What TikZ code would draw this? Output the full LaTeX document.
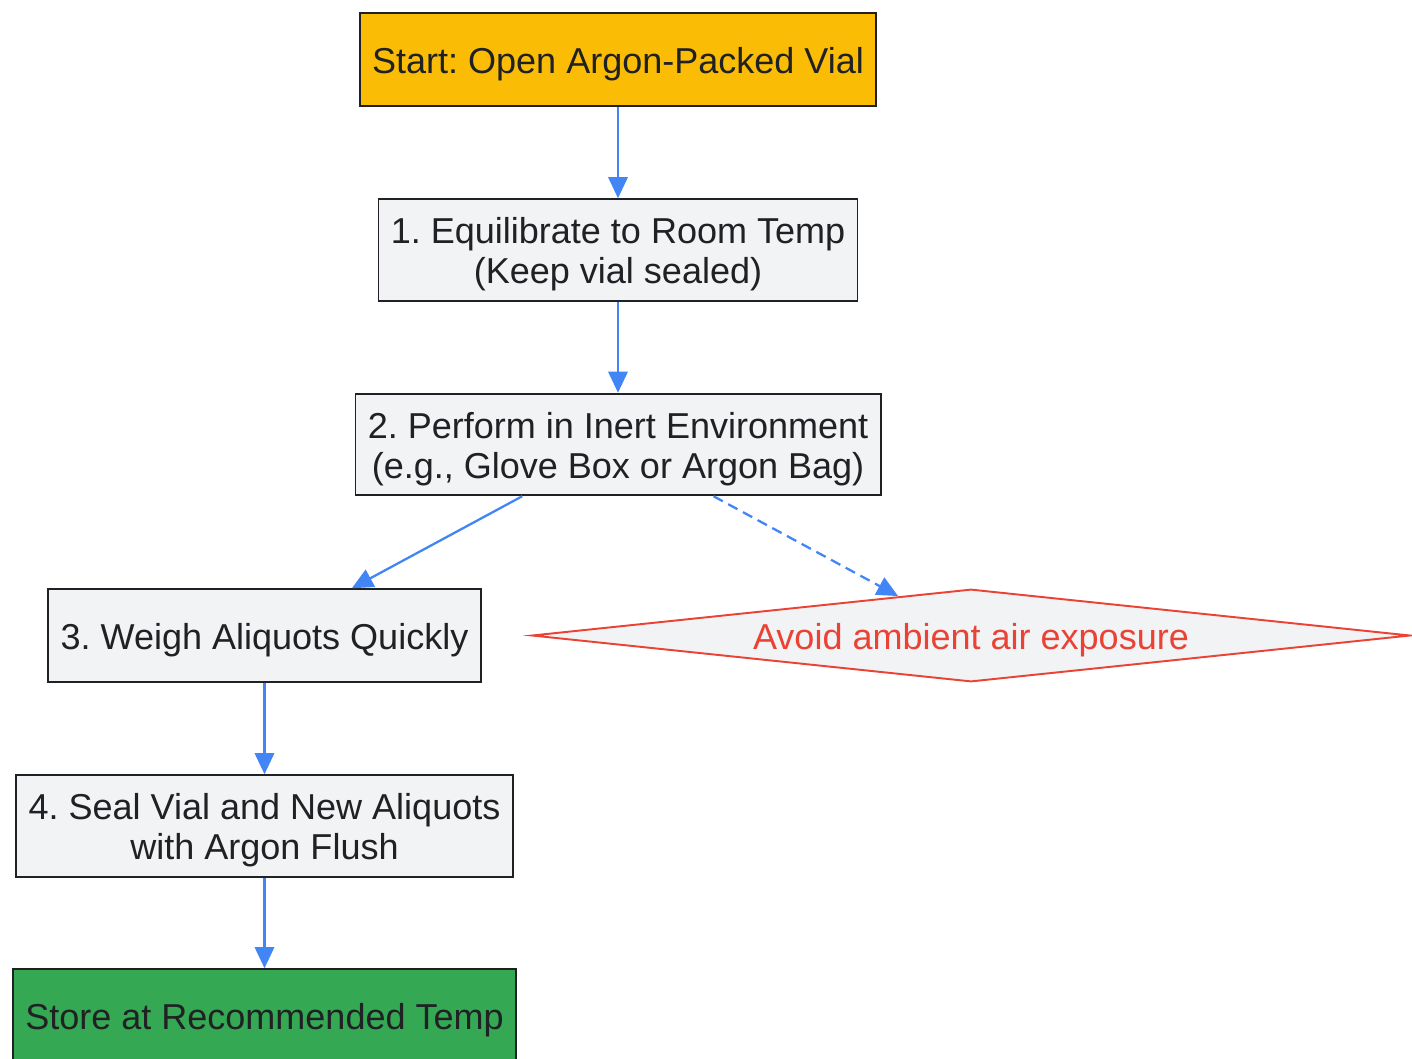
\documentclass[tikz,border=0pt]{standalone}
\usepackage{fontspec}
\setmainfont{Liberation Sans}
\usetikzlibrary{shapes.geometric, arrows.meta}
\frenchspacing

\definecolor{startyellow}{HTML}{FBBC05}
\definecolor{storegreen}{HTML}{34A853}
\definecolor{stepgray}{HTML}{F1F3F4}
\definecolor{flowblue}{HTML}{4285F4}
\definecolor{warnred}{HTML}{EA4335}
\definecolor{inkdark}{HTML}{202124}

% taller first line, so the text sits a little lower in its box
\newcommand{\toprule}{\rule{0pt}{20pt}}

\tikzset{
  stepbox/.style={draw=inkdark, fill=stepgray, line width=1.1pt, text=inkdark,
    align=center, inner xsep=7pt, inner ysep=0pt, minimum height=52.7pt,
    font=\fontsize{20.5}{22.7}\selectfont},
  twobox/.style={stepbox, minimum height=57.8pt},
  warnbox/.style={diamond, draw=warnred, fill=stepgray, line width=1.1pt,
    text=warnred, aspect=9.5, inner sep=0pt, minimum width=500pt,
    minimum height=52.7pt, font=\fontsize{20.5}{22.7}\selectfont},
  flow/.style={draw=flowblue, line width=1.3pt, -{Triangle[length=12pt, width=11pt]}},
}

\begin{document}
\begin{tikzpicture}[x=0.02cm, y=-0.02cm]
    \useasboundingbox (0, 0) rectangle (1412, 1058);
    \clip (0, 0) rectangle (1412, 1058);

    \node[stepbox, fill=startyellow] (start) at (618, 59.5) {\toprule Start: Open Argon-Packed Vial};
    \node[twobox] (s1) at (618, 250) {\toprule 1. Equilibrate to Room Temp\\(Keep vial sealed)};
    \node[twobox] (s2) at (618, 444.5) {\toprule 2. Perform in Inert Environment\\(e.g., Glove Box or Argon Bag)};
    \node[stepbox] (s3) at (264.5, 635.5) {\toprule 3. Weigh Aliquots Quickly};
    \node[warnbox] (avoid) at (971, 635.5) {\toprule Avoid ambient air exposure};
    \node[twobox] (s4) at (264.5, 826) {\toprule 4. Seal Vial and New Aliquots\\with Argon Flush};
    \node[stepbox, fill=storegreen] (store) at (264.5, 1015.5) {\toprule Store at Recommended Temp};

    \draw[flow] (start) -- (s1);
    \draw[flow] (s1) -- (s2);
    \draw[flow] (s2) -- (s3);
    \draw[flow, dash pattern=on 6pt off 3.5pt] (s2) -- (avoid);
    \draw[flow] (s3) -- (s4);
    \draw[flow] (s4) -- (store);
  \end{tikzpicture}
\end{document}
